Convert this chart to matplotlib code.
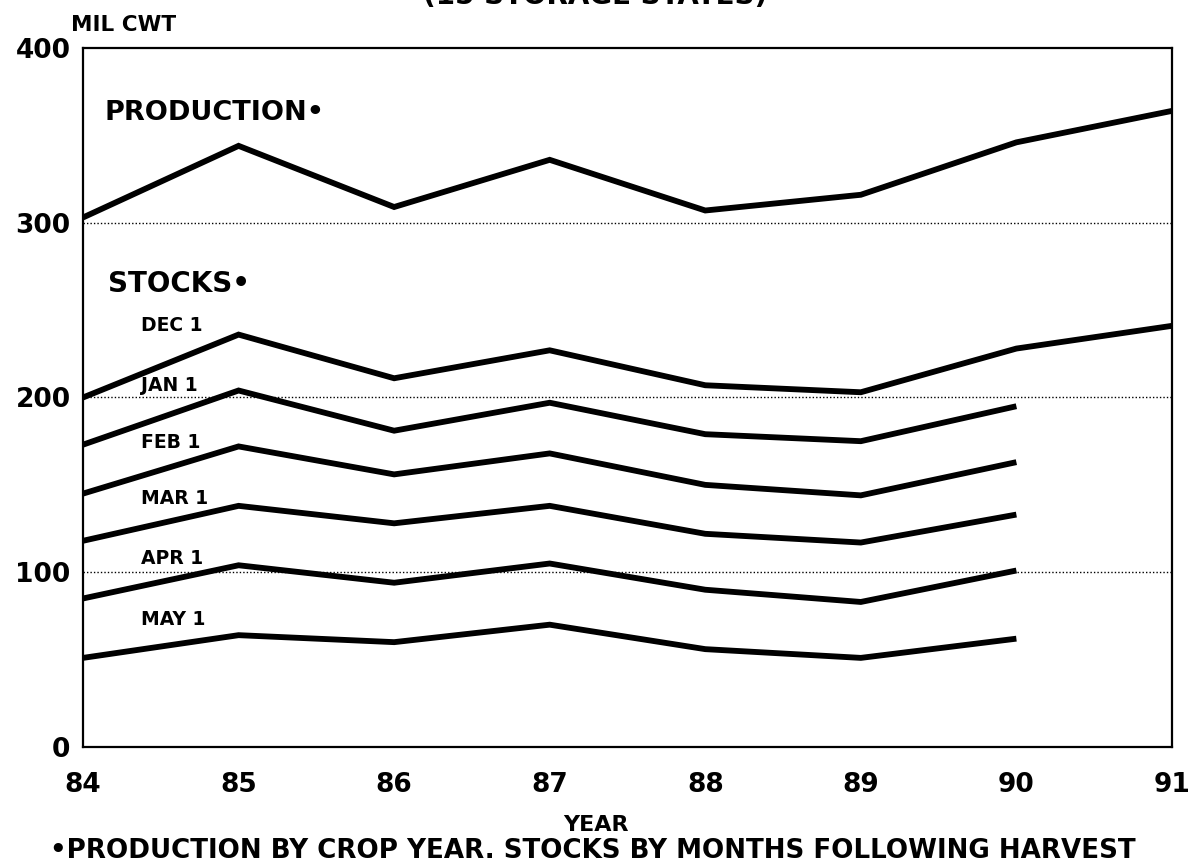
import matplotlib
matplotlib.use("Agg")
import matplotlib.pyplot as plt

plt.rcParams['font.family'] = ['DejaVu Sans']
plt.rcParams['font.weight'] = 'bold'

years = [84, 85, 86, 87, 88, 89, 90, 91]
year_labels = ['84', '85', '86', '87', '88', '89', '90', '91']
production = [303, 344, 309, 336, 307, 316, 346, 364]
dec1 = [200, 236, 211, 227, 207, 203, 228, 241]
jan1 = [173, 204, 181, 197, 179, 175, 195]
feb1 = [145, 172, 156, 168, 150, 144, 163]
mar1 = [118, 138, 128, 138, 122, 117, 133]
apr1 = [85, 104, 94, 105, 90, 83, 101]
may1 = [51, 64, 60, 70, 56, 51, 62]
stock_series = [dec1, jan1, feb1, mar1, apr1, may1]
stock_labels = ['DEC 1', 'JAN 1', 'FEB 1', 'MAR 1', 'APR 1', 'MAY 1']
y_ticks = [0, 100, 200, 300, 400]

fig = plt.figure(figsize=(11.91, 8.66), dpi=100)
ax = fig.add_axes([0.0697, 0.1374, 0.9143, 0.8072])

lw = 4.2
ax.plot(years, production, color='black', lw=lw, solid_joinstyle='miter', solid_capstyle='butt')
for s in stock_series:
    ax.plot(years[:len(s)], s, color='black', lw=lw, solid_joinstyle='miter', solid_capstyle='butt')

for g in [100, 200, 300]:
    ax.axhline(g, color='black', lw=1.0, ls=(0, (1, 1.5)), zorder=0)

ax.set_xlim(84, 91)
ax.set_ylim(0, 400)
ax.set_xticks(years)
ax.set_xticklabels(year_labels)
ax.set_yticks(y_ticks)
ax.tick_params(axis='both', length=0, labelsize=19)
ax.tick_params(axis='x', pad=18)
ax.tick_params(axis='y', pad=9)
for sp in ax.spines.values():
    sp.set_linewidth(1.6)

# in-plot labels
ax.text(84.14, 363, 'PRODUCTION•', fontsize=19.5, fontweight='bold', va='center', ha='left')
ax.text(84.16, 265, 'STOCKS•', fontsize=20, fontweight='bold', va='center', ha='left')
label_y = [241, 207, 174, 142, 108, 73]
for lab, yy in zip(stock_labels, label_y):
    ax.text(84.37, yy, lab, fontsize=13.5, fontweight='bold', va='center', ha='left')

fig.text(0.0597, 1 - 25 / 866, 'MIL CWT', fontsize=15.5, fontweight='bold', va='center', ha='left')
fig.text(0.5, 1 + 4 / 866, '(15 STORAGE STATES)', fontsize=20, fontweight='bold', va='center', ha='center')
fig.text(0.5, 1 - 825 / 866, 'YEAR', fontsize=16, fontweight='bold', va='center', ha='center')
fig.text(0.498, 1 - 851 / 866, '•PRODUCTION BY CROP YEAR. STOCKS BY MONTHS FOLLOWING HARVEST',
         fontsize=18.8, fontweight='bold', va='center', ha='center')

fig.savefig('out.png', dpi=100)
